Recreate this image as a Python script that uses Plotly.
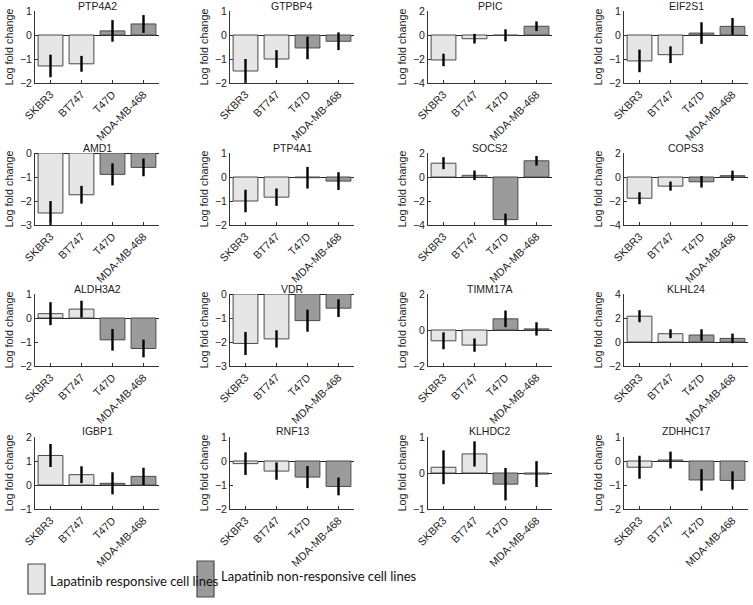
import plotly.graph_objects as go

cell_lines = ["SKBR3", "BT747", "T47D", "MDA-MB-468"]
genes = ["PTP4A2", "GTPBP4", "PPIC", "EIF2S1",
         "AMD1", "PTP4A1", "SOCS2", "COPS3",
         "ALDH3A2", "VDR", "TIMM17A", "KLHL24",
         "IGBP1", "RNF13", "KLHDC2", "ZDHHC17"]

log_fc = [
    [-1.29, -1.20, 0.17, 0.46],
    [-1.50, -1.00, -0.54, -0.26],
    [-2.08, -0.31, -0.03, 0.73],
    [-1.08, -0.82, 0.08, 0.36],
    [-2.50, -1.74, -0.89, -0.60],
    [-1.00, -0.84, -0.03, -0.17],
    [1.15, 0.14, -3.55, 1.35],
    [-1.77, -0.76, -0.40, 0.11],
    [0.18, 0.37, -0.91, -1.27],
    [-2.06, -1.87, -1.11, -0.59],
    [-0.60, -0.84, 0.62, 0.06],
    [2.15, 0.69, 0.58, 0.30],
    [1.23, 0.43, 0.07, 0.36],
    [-0.11, -0.42, -0.67, -1.06],
    [0.16, 0.53, -0.31, -0.03],
    [-0.26, 0.04, -0.79, -0.81],
]

log_fc_err = [
    [0.47, 0.33, 0.45, 0.37],
    [0.50, 0.37, 0.47, 0.37],
    [0.52, 0.40, 0.50, 0.40],
    [0.47, 0.35, 0.45, 0.35],
    [0.50, 0.37, 0.46, 0.37],
    [0.47, 0.36, 0.45, 0.37],
    [0.50, 0.40, 0.50, 0.40],
    [0.50, 0.38, 0.48, 0.42],
    [0.48, 0.35, 0.45, 0.37],
    [0.48, 0.36, 0.46, 0.37],
    [0.47, 0.37, 0.46, 0.37],
    [0.50, 0.37, 0.48, 0.40],
    [0.48, 0.35, 0.46, 0.36],
    [0.47, 0.36, 0.46, 0.37],
    [0.47, 0.35, 0.45, 0.36],
    [0.48, 0.35, 0.45, 0.38],
]

y_ranges = [
    [-2, 1], [-2, 1], [-4, 2], [-2, 1],
    [-3, 0], [-2, 1], [-4, 2], [-4, 2],
    [-2, 1], [-3, 0], [-2, 2], [-2, 4],
    [-1, 2], [-2, 1], [-1, 1], [-2, 1],
]
y_dticks = [1, 1, 2, 1, 1, 1, 2, 2, 1, 1, 2, 2, 1, 1, 1, 1]

responsive = ["SKBR3", "BT747"]
legend_labels = ["Lapatinib responsive cell lines", "Lapatinib non-responsive cell lines"]

LIGHT = "#e6e6e6"
DARK = "#9b9b9b"
EDGE = "#4a4a4a"
FONT = "Arial, 'Liberation Sans', sans-serif"
W, H = 753, 605

col_left = [35, 230, 428, 624]
plot_w = 124
row_top = [11, 153, 294, 437]
plot_h = 72

fig = go.Figure()
layout = {}
annotations = []
for i, g in enumerate(genes):
    r, c = divmod(i, 4)
    n = i + 1
    xa = "x" if n == 1 else f"x{n}"
    ya = "y" if n == 1 else f"y{n}"
    colors = [LIGHT if cl in responsive else DARK for cl in cell_lines]
    fig.add_trace(go.Bar(
        x=cell_lines, y=log_fc[i], width=0.8,
        marker=dict(color=colors, line=dict(color=EDGE, width=1)),
        error_y=dict(type="data", array=log_fc_err[i], color="black",
                     thickness=2.4, width=0),
        xaxis=xa, yaxis=ya, showlegend=False, hoverinfo="skip"))
    x0 = col_left[c] / W
    x1 = (col_left[c] + plot_w) / W
    y1 = 1 - row_top[r] / H
    y0 = 1 - (row_top[r] + plot_h) / H
    layout["xaxis" if n == 1 else f"xaxis{n}"] = dict(
        domain=[x0, x1], anchor=ya, range=[-0.5, 3.5], automargin=False,
        tickangle=-45, ticks="inside", ticklen=3, tickcolor="#333",
        showline=True, linecolor="#333", linewidth=1,
        tickfont=dict(size=10.8, family=FONT, color="#222"),
        showgrid=False, fixedrange=True)
    layout["yaxis" if n == 1 else f"yaxis{n}"] = dict(
        domain=[y0, y1], anchor=xa, range=y_ranges[i], dtick=y_dticks[i],
        automargin=False, fixedrange=True,
        ticks="inside", ticklen=3, tickcolor="#333",
        showline=True, linecolor="#333", linewidth=1,
        zeroline=True, zerolinecolor="#222", zerolinewidth=1,
        showgrid=False,
        tickfont=dict(size=10.5, family=FONT, color="#222"),
        title=dict(text="Log fold change", standoff=4,
                   font=dict(size=10.8, family=FONT, color="#222")))
    annotations.append(dict(
        text=g, x=(x0 + x1) / 2, y=y1, xref="paper", yref="paper",
        xanchor="center", yanchor="bottom", yshift=-2.5, showarrow=False,
        font=dict(size=10.5, family=FONT, color="#222")))

# legend drawn as boxes + labels
legend_boxes = [(28, 45, 564, 594, LIGHT), (197, 214, 561, 597, DARK)]
legend_text_x = [48, 219]
legend_text_y = [581, 576]
shapes = []
for (bx0, bx1, by0, by1, col), lab, tx, ty in zip(legend_boxes, legend_labels,
                                                   legend_text_x, legend_text_y):
    shapes.append(dict(type="rect", xref="paper", yref="paper",
                       x0=bx0 / W, x1=bx1 / W, y0=1 - by1 / H, y1=1 - by0 / H,
                       fillcolor=col, line=dict(color=EDGE, width=1.2)))
    annotations.append(dict(
        text=lab, x=tx / W, y=1 - ty / H, xref="paper", yref="paper",
        xanchor="left", yanchor="middle", showarrow=False,
        font=dict(size=13, family="Lato", color="#111")))

fig.update_layout(
    width=W, height=H, margin=dict(l=0, r=0, t=0, b=0),
    paper_bgcolor="white", plot_bgcolor="white",
    annotations=annotations, shapes=shapes, bargap=0.2,
    **layout)

fig.write_html("out.html", config={"displayModeBar": False},
               post_script="document.body.style.margin='0';document.body.style.overflow='hidden';")
